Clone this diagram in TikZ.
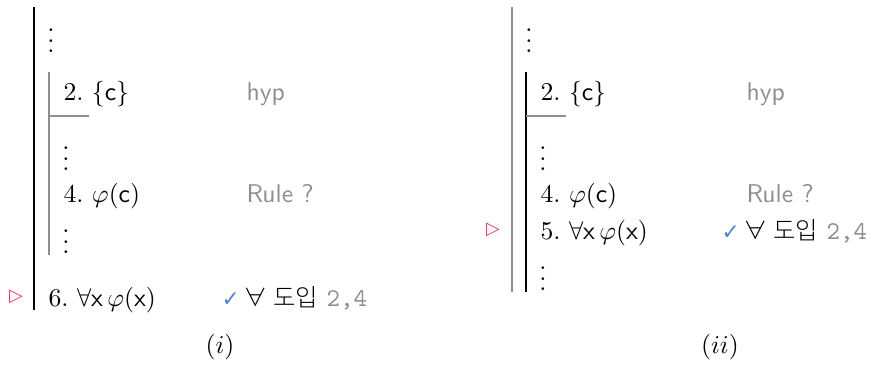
\documentclass[tikz,border=0pt]{standalone}
\usepackage{amsmath}
\usepackage{fontspec}
\newfontfamily\kofont{Noto Sans CJK KR Light}
\newfontfamily\symfont{DejaVu Sans}
\usetikzlibrary{positioning}
\definecolor{rulegray}{HTML}{8E8E8E}
\definecolor{checkblue}{HTML}{4A88C7}
\definecolor{markred}{HTML}{E8365A}

\newcommand{\chk}{{\symfont\fontsize{8.5}{9}\selectfont\color{checkblue}✓}}
\newcommand{\cur}{{\symfont\fontsize{7}{8}\selectfont\color{markred}▷}}
\newcommand{\allintro}{\chk\kern1.5pt{\kofont\fontsize{9.5}{10}\selectfont ∀ 도입}\ {\ttfamily\color{rulegray}2,4}}

\begin{document}
\begin{tikzpicture}[
  x=0.39pt, y=-0.39pt,
  line/.style={inner sep=0pt, anchor=base west},
  just/.style={inner sep=0pt, anchor=base west, font=\sffamily, text=rulegray},
  dots/.style={inner sep=0pt},
  bar/.style={line width=0.55pt},
  subbar/.style={line width=0.55pt, rulegray}
]
\useasboundingbox (0,0) rectangle (872,364);

% (i): the step closes the subproof
\coordinate (iOtop) at (34,7);   \coordinate (iObot) at (34,310);
\coordinate (iItop) at (49,72);  \coordinate (iIbot) at (49,255);
\coordinate (iHl) at (49,116);   \coordinate (iHr) at (89,116);
\draw[bar] (iOtop) -- (iObot);
\draw[subbar] (iItop) -- (iIbot);
\draw[subbar] (iHl) -- (iHr);
\node[dots] (id1) at (51,33) {$\vdots$};
\node[line] (i2) at (63,100) {2.~$\{\mathsf{c}\}$};
\node[just] (i2j) at (246,100) {hyp};
\node[dots] (id2) at (66,151) {$\vdots$};
\node[line] (i4) at (63,202) {4.~$\varphi(\mathsf{c})$};
\node[just] (i4j) at (246,202) {Rule ?};
\node[dots] (id3) at (66,234) {$\vdots$};
\node[dots] (imark) at (16,297) {\cur};
\node[line] (i6) at (48,306) {6.~$\forall\mathsf{x}\,\varphi(\mathsf{x})$};
\node[line] (i6j) at (221,306) {\allintro};
\node (icap) at (220,347) {$(i)$};

% (ii): the step stays inside the subproof
\coordinate (jOtop) at (512,7);  \coordinate (jObot) at (512,292);
\coordinate (jItop) at (526,72); \coordinate (jIbot) at (526,292);
\coordinate (jHl) at (526,116);  \coordinate (jHr) at (566,116);
\draw[subbar] (jOtop) -- (jObot);
\draw[bar] (jItop) -- (jIbot);
\draw[subbar] (jHl) -- (jHr);
\node[dots] (jd1) at (529,33) {$\vdots$};
\node[line] (j2) at (540,100) {2.~$\{\mathsf{c}\}$};
\node[just] (j2j) at (746,100) {hyp};
\node[dots] (jd2) at (543,151) {$\vdots$};
\node[line] (j4) at (540,202) {4.~$\varphi(\mathsf{c})$};
\node[just] (j4j) at (746,202) {Rule ?};
\node[dots] (jmark) at (493,230) {\cur};
\node[line] (j5) at (540,239) {5.~$\forall\mathsf{x}\,\varphi(\mathsf{x})$};
\node[line] (j5j) at (721,239) {\allintro};
\node[dots] (jd3) at (543,271) {$\vdots$};
\node (jcap) at (720,347) {$(ii)$};
\end{tikzpicture}
\end{document}
